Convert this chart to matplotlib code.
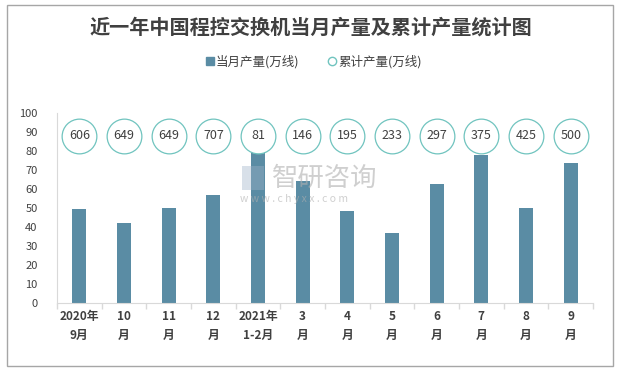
import matplotlib
matplotlib.use("Agg")
import matplotlib.pyplot as plt
from matplotlib.lines import Line2D
from matplotlib.patches import Rectangle

plt.rcParams['font.family'] = ['Noto Sans CJK SC', 'DejaVu Sans']

categories = ["2020年\n9月", "10\n月", "11\n月", "12\n月", "2021年\n1-2月", "3\n月",
              "4\n月", "5\n月", "6\n月", "7\n月", "8\n月", "9\n月"]
monthly = [49.5, 42.2, 50, 57, 80.6, 64, 48.5, 37, 62.7, 78, 50, 73.8]
cumulative = [606, 649, 649, 707, 81, 146, 195, 233, 297, 375, 425, 500]
yticks = list(range(0, 101, 10))

bar_color = "#5a8ca4"
circle_color = "#70c4bf"
text_color = "#404040"

fig = plt.figure(figsize=(6.21, 3.71), dpi=100)
fig.patches.append(Rectangle((7/621, 5/371), 606/621, 361/371, transform=fig.transFigure,
                             fill=False, edgecolor="#a6a6a6", linewidth=1.0))

ax = fig.add_axes([57/621, 68/371, 536/621, 190/371])
x = list(range(len(categories)))
ax.bar(x, monthly, width=0.31, color=bar_color, zorder=2)

circle_y = [88] * len(cumulative)
ax.plot(x, circle_y, linestyle="none", marker="o", markersize=25,
        markerfacecolor="white", markeredgecolor=circle_color, markeredgewidth=0.9, zorder=3)
for xi, yi, v in zip(x, circle_y, cumulative):
    ax.text(xi, yi, str(v), ha="center", va="center", fontsize=9, color=text_color, zorder=4)

ax.set_xlim(-0.5, len(categories) - 0.5)
ax.set_ylim(0, 100)
ax.set_yticks(yticks)
ax.tick_params(axis="y", length=0, labelsize=8, labelcolor=text_color, pad=14)
ax.set_xticks(x)
ax.set_xticklabels(categories, fontsize=8.5, fontweight="bold", color=text_color, linespacing=1.6)
ax.tick_params(axis="x", length=0, pad=5)
ax.set_xticks([i - 0.5 for i in range(len(categories) + 1)], minor=True)
ax.tick_params(axis="x", which="minor", length=4, color="#d9d9d9", width=1)

for s in ["top", "right"]:
    ax.spines[s].set_visible(False)
ax.spines["left"].set_color("#d9d9d9")
ax.spines["bottom"].set_color("#d9d9d9")

fig.text(0.5, 1 - 27/371, "近一年中国程控交换机当月产量及累计产量统计图", ha="center", va="center",
         fontsize=14.5, fontweight="bold", color=text_color)

handles = [Line2D([], [], linestyle="none", marker="s", markersize=6, color=bar_color),
           Line2D([], [], linestyle="none", marker="o", markersize=6, markerfacecolor="white",
                  markeredgecolor=circle_color, markeredgewidth=1)]
fig.legend(handles, ["当月产量(万线)", "累计产量(万线)"], loc="center",
           bbox_to_anchor=(313/621, 1 - 62/371), ncol=2, frameon=False, fontsize=9,
           handletextpad=0.1, columnspacing=2.2, handlelength=0.8, labelcolor=text_color)

# watermark
fig.text(272/621, 1 - 178/371, "智研咨询", ha="left", va="center", fontsize=19,
         color="#b0b0b0", alpha=0.6, zorder=5)
fig.text(240/621, 1 - 199/371, "w w w . c h y x x . c o m", ha="left", va="center", fontsize=7.5,
         color="#b0b0b0", alpha=0.6, zorder=5)
fig.patches.append(Rectangle((242/621, 1 - 190/371), 22/621, 24/371, transform=fig.transFigure,
                             facecolor="#9fb3c8", alpha=0.4, edgecolor="none", zorder=5))

fig.savefig("out.png", dpi=100)
